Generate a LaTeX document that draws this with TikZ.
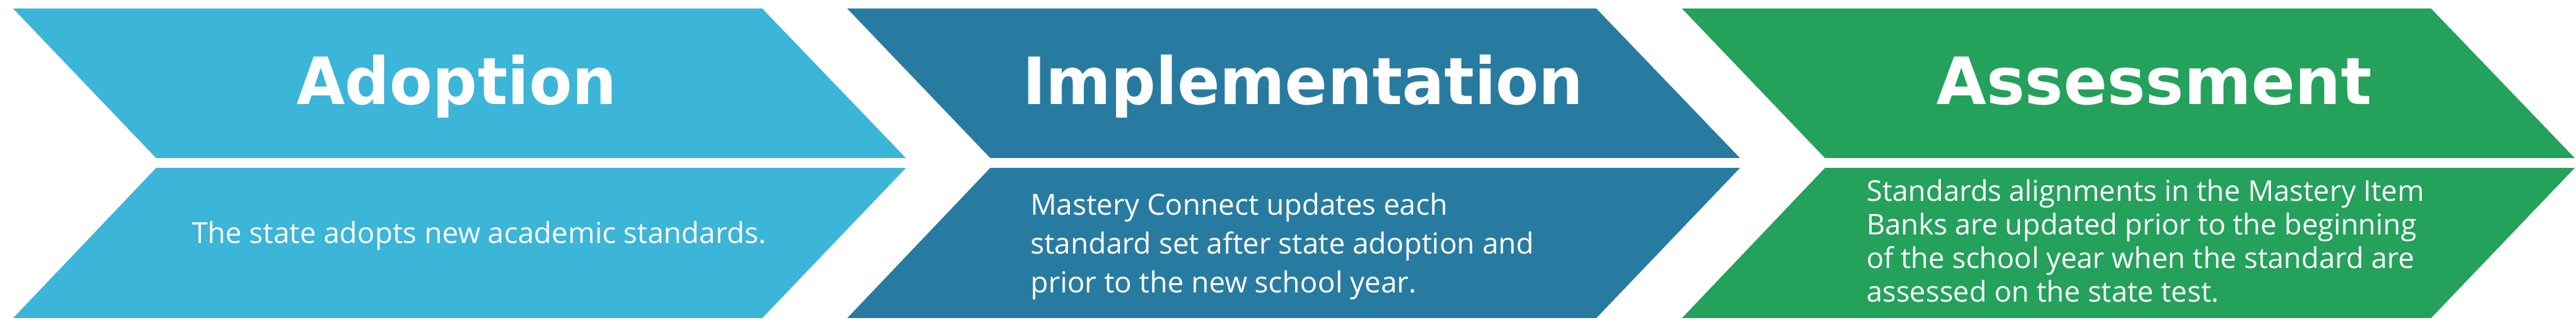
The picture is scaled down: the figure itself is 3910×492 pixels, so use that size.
\documentclass[tikz,border=0pt]{standalone}
\usepackage{fontspec}
\setmainfont{Open Sans}
\newfontfamily\headfont{DejaVu Sans Bold}
\usetikzlibrary{calc}

\definecolor{adoptblue}{RGB}{59,181,216}
\definecolor{implblue}{RGB}{40,123,160}
\definecolor{assessgreen}{RGB}{36,161,91}

\newcommand{\squeezetitle}[2]{\scalebox{#1}[1]{#2}}

\begin{document}
\begin{tikzpicture}[x=1pt, y=1pt,
    title/.style={text=white, inner sep=0pt, anchor=base, font=\headfont\fontsize{99}{99}\selectfont},
    body/.style={text=white, inner sep=0pt, align=left, font=\fontsize{44}{59}\selectfont}]
    \useasboundingbox (0,0) rectangle (3910,492);

    % Adoption chevron
    \fill[adoptblue] (20,479) -- (1157,479) -- (1375,252) -- (237,252) -- cycle;
    \fill[adoptblue] (237,237) -- (1375,237) -- (1157,9) -- (20,9) -- cycle;

    % Implementation chevron
    \fill[implblue] (1286,479) -- (2423,479) -- (2641,252) -- (1503,252) -- cycle;
    \fill[implblue] (1503,237) -- (2641,237) -- (2423,9) -- (1286,9) -- cycle;

    % Assessment chevron
    \fill[assessgreen] (2553,479) -- (3690,479) -- (3908,252) -- (2770,252) -- cycle;
    \fill[assessgreen] (2770,237) -- (3908,237) -- (3690,9) -- (2553,9) -- cycle;

    % Titles
    \node[title] (adoption) at (693,333) {\squeezetitle{0.96}{Adoption}};
    \node[title] (implementation) at (1978,333) {\squeezetitle{0.96}{Implementation}};
    \node[title] (assessment) at (3270,333) {\squeezetitle{0.99}{Assessment}};

    % Descriptions (base = last line)
    \node[body, anchor=base] (adoptiontext) at (727,122) {The state adopts new academic standards.};
    \node[body, anchor=base west] (implementationtext) at (1564,47)
        {Mastery Connect updates each\\standard set after state adoption and\\prior to the new school year.};
    \node[body, anchor=base west, font=\fontsize{43.5}{51}\selectfont] (assessmenttext) at (2833,33)
        {Standards alignments in the Mastery Item\\Banks are updated prior to the beginning\\of the school year when the standard are\\assessed on the state test.};
\end{tikzpicture}
\end{document}
